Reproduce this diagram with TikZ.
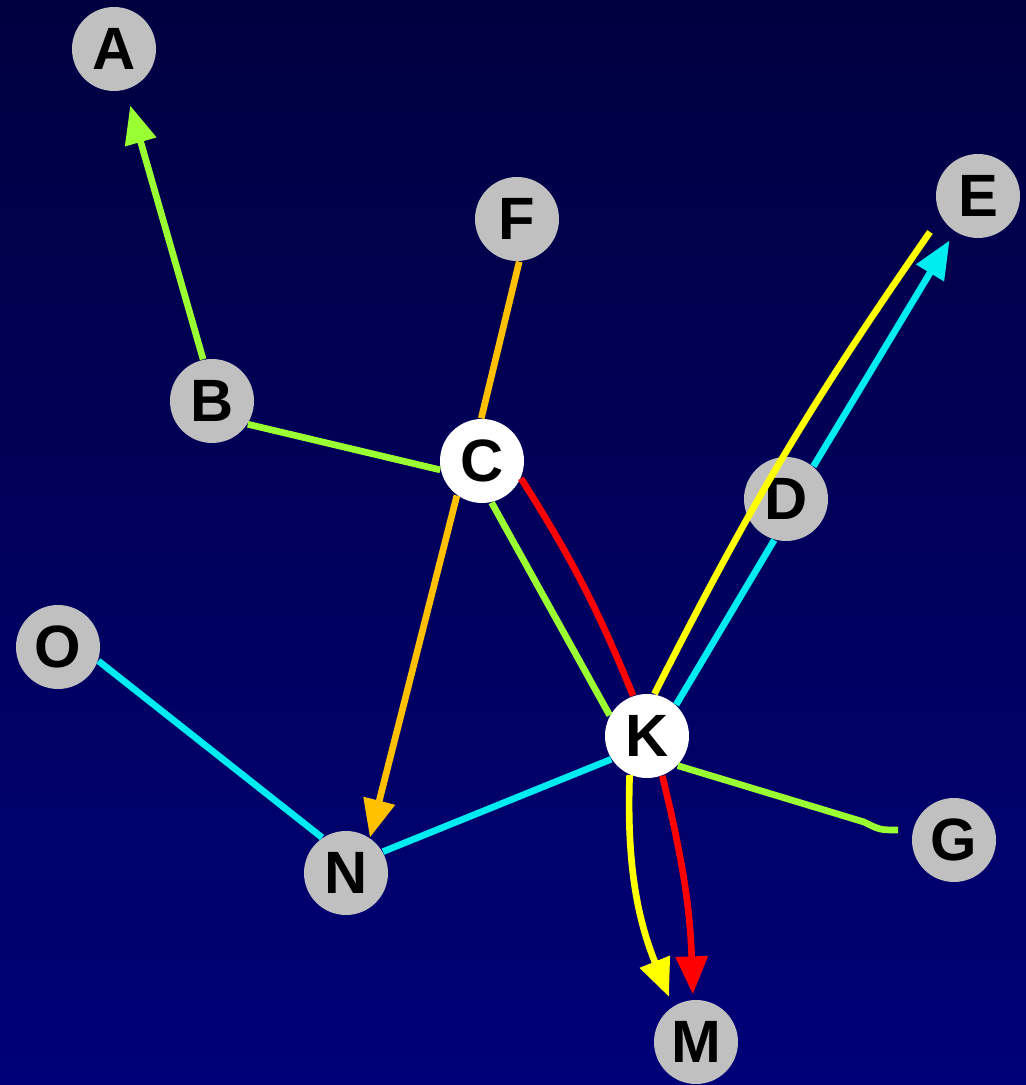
\documentclass[tikz,border=0pt]{standalone}
\usepackage{fontspec}
\setmainfont{Liberation Sans}
\usetikzlibrary{arrows.meta,positioning,calc}
\definecolor{netTop}{RGB}{0,0,64}
\definecolor{netBottom}{RGB}{0,0,120}
\definecolor{netGray}{RGB}{192,192,192}
\definecolor{netGreen}{RGB}{153,255,51}
\definecolor{netOrange}{RGB}{255,192,0}
\definecolor{netCyan}{RGB}{0,236,240}
\definecolor{netYellow}{RGB}{255,255,0}
\definecolor{netRed}{RGB}{255,0,0}

\begin{document}
\begin{tikzpicture}[
    vert/.style={circle, fill=netGray, minimum size=8.4mm, inner sep=0pt,
                 font=\fontsize{17}{20}\selectfont\bfseries},
    hub/.style={vert, fill=white},
    link/.style={line width=1.9pt},
    tip/.style={-{Triangle[length=3.8mm, width=3.1mm]}}
  ]
  % background
  \shade[top color=netTop, bottom color=netBottom] (0,0) rectangle (10.26,10.85);
  \useasboundingbox (0,0) rectangle (10.26,10.85);

  \node[vert] (A) at (1.14, 10.36) {A};
  \node[vert] (F) at (5.17,  8.66) {F};
  \node[vert] (E) at (9.78,  8.89) {E};
  \node[vert] (B) at (2.12,  6.84) {B};
  \node[hub]  (C) at (4.82,  6.24) {C};
  \node[vert] (D) at (7.86,  5.86) {D};
  \node[vert] (O) at (0.58,  4.38) {O};
  \node[hub]  (K) at (6.47,  3.49) {K};
  \node[vert] (G) at (9.54,  2.45) {G};
  \node[vert] (N) at (3.46,  2.12) {N};
  \node[vert] (M) at (6.96,  0.43) {M};

  \coordinate (ySt)  at (9.30, 8.53);
  \coordinate (gBend) at (8.64, 2.63);
  \coordinate (gEnd) at (8.98, 2.55);

  % green
  \draw[link, netGreen, tip, shorten >=1.6mm] (B.102) -- (A.-74);
  \draw[link, netGreen] (B.-33) -- (C.-168);
  \draw[link, netGreen] (C.-77) -- (K.151);
  \draw[link, netGreen] (K.-44) -- (gBend) .. controls (8.80,2.55) .. (gEnd);

  % orange
  \draw[link, netOrange] (F.-87) -- (C.91);
  \draw[link, netOrange, tip] (C.-126) -- (N.56);

  % cyan
  \draw[link, netCyan] (O.-19) -- (N.124);
  \draw[link, netCyan] (N.30) -- (K.-147);
  \draw[link, netCyan] (K.47) -- (D.-106);
  \draw[link, netCyan, tip, shorten >=1mm] (D.50) -- (E.237);

  % red
  \draw[link, netRed] (C.-24) to[bend left=5] (K.109);
  \draw[link, netRed, tip, shorten >=0.5mm] (K.-69) to[bend left=6] (M.94);

  % yellow
  \draw[link, netYellow] (ySt) to[bend right=4] (K.80);
  \draw[link, netYellow, tip, shorten >=1mm] (K.-114) to[out=-92, in=112] (M.123);
\end{tikzpicture}
\end{document}
